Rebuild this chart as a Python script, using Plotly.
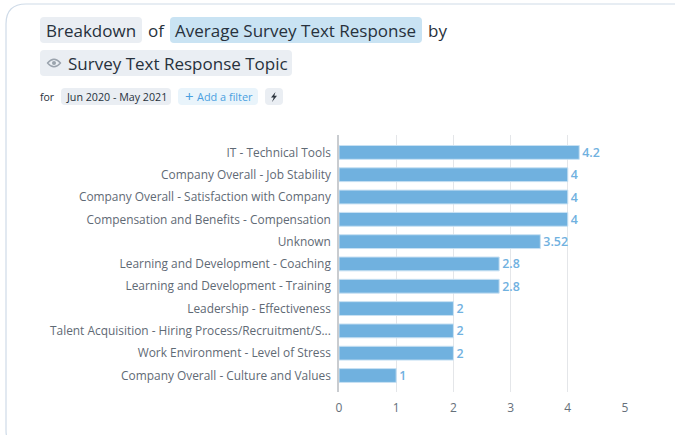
import plotly.graph_objects as go

topics = [
    "IT - Technical Tools",
    "Company Overall - Job Stability",
    "Company Overall - Satisfaction with Company",
    "Compensation and Benefits - Compensation",
    "Unknown",
    "Learning and Development - Coaching",
    "Learning and Development - Training",
    "Leadership - Effectiveness",
    "Talent Acquisition - Hiring Process/Recruitment/S...",
    "Work Environment - Level of Stress",
    "Company Overall - Culture and Values",
]
avg_response = [4.2, 4, 4, 4, 3.52, 2.8, 2.8, 2, 2, 2, 1]
x_ticks = [0, 1, 2, 3, 4, 5]

W, H = 675, 435
ML, MR, MT, MB = 339, 50, 135, 43
FONT = "Open Sans"


def px(x):
    return (x - ML) / (W - ML - MR)


def py(y):
    return 1 - (y - MT) / (H - MT - MB)


def rounded_rect(x0, y0, x1, y1, r):
    """SVG path for a rounded rectangle, in paper coordinates."""
    pts = [
        ("M", x0 + r, y0), ("L", x1 - r, y0), ("Q", x1, y0, x1, y0 + r),
        ("L", x1, y1 - r), ("Q", x1, y1, x1 - r, y1), ("L", x0 + r, y1),
        ("Q", x0, y1, x0, y1 - r), ("L", x0, y0 + r), ("Q", x0, y0, x0 + r, y0),
    ]
    parts = []
    for p in pts:
        if p[0] == "Q":
            parts.append(f"Q{px(p[1])},{py(p[2])} {px(p[3])},{py(p[4])}")
        else:
            parts.append(f"{p[0]}{px(p[1])},{py(p[2])}")
    return " ".join(parts) + " Z"


def pill(x0, y0, x1, y1, color, r=4):
    return dict(type="path", xref="paper", yref="paper", path=rounded_rect(x0, y0, x1, y1, r),
                fillcolor=color, line=dict(width=0), layer="below")


def poly(points, color):
    d = "M" + " L".join(f"{px(x)},{py(y)}" for x, y in points) + " Z"
    return dict(type="path", xref="paper", yref="paper", path=d, fillcolor=color,
                line=dict(width=0), layer="above")


def label(x, y, text, size, color, weight=400):
    # annotations carry about 2px of inner padding, taken back here
    return dict(xref="paper", yref="paper", x=px(x - 2), y=py(y), text=text, showarrow=False,
                xanchor="left", yanchor="middle", align="left",
                font=dict(family=FONT, size=size, color=color, weight=weight))


GREY_PILL = "#eaeef3"
BLUE_PILL = "#c9e3f3"
INK = "#27313c"

shapes = [
    # card outline, running off the right and bottom edges
    dict(type="path", xref="paper", yref="paper", layer="below",
         path=rounded_rect(6, 4, 700, 450, 20), fillcolor="white",
         line=dict(color="#cfdbe8", width=1.2)),
    pill(40, 17, 142, 43, GREY_PILL),
    pill(170, 17, 422, 43, BLUE_PILL),
    pill(40, 50, 292, 76, GREY_PILL),
    pill(61, 88, 171, 105, GREY_PILL),
    pill(178, 88, 258, 105, "#e9f4fb"),
    pill(265, 88, 283, 105, GREY_PILL),
    # eye icon on the topic pill
    dict(type="path", xref="paper", yref="paper", layer="above",
         path=(f"M{px(47.5)},{py(63)} Q{px(54)},{py(55.5)} {px(60.5)},{py(63)} "
               f"Q{px(54)},{py(70.5)} {px(47.5)},{py(63)} Z"),
         fillcolor="rgba(0,0,0,0)", line=dict(color="#9aa3ad", width=1.3)),
    dict(type="circle", xref="paper", yref="paper", layer="above",
         x0=px(52), x1=px(56), y0=py(65), y1=py(61),
         fillcolor="#9aa3ad", line=dict(width=0)),
    # lightning bolt on the last pill
    poly([(275.5, 92), (271, 97.5), (273.7, 97.5), (272, 102), (277, 95.8), (274.3, 95.8)], "#2f3740"),
]

annotations = [
    label(45.5, 30, "Breakdown", 17, INK, 500),
    label(148, 30, "of", 17, INK, 500),
    label(175, 30, "Average Survey Text Response", 17, INK, 500),
    label(428, 30, "by", 17, INK, 500),
    label(68, 63, "Survey Text Response Topic", 17, INK, 500),
    label(40, 96.5, "for", 10.5, INK),
    label(66, 97, "Jun 2020 - May 2021", 10.7, INK),
    label(185, 96, "+", 15, "#4a9fe0"),
    label(197, 96.5, "Add a filter", 10.9, "#4a9fe0", 500),
]

fig = go.Figure(
    go.Bar(
        x=avg_response,
        y=topics,
        orientation="h",
        marker=dict(color="#70b1df", line=dict(color="#c8e1f3", width=1)),
        text=[str(v) for v in avg_response],
        textposition="outside",
        constraintext="none",
        cliponaxis=False,
        textfont=dict(family=FONT, size=12.4, color="#70b1df", weight=600),
        hoverinfo="skip",
    )
)

fig.update_layout(
    width=W,
    height=H,
    autosize=False,
    margin=dict(l=ML, r=MR, t=MT, b=MB, pad=0),
    paper_bgcolor="white",
    plot_bgcolor="rgba(0,0,0,0)",
    showlegend=False,
    bargap=0.38,
    shapes=shapes,
    annotations=annotations,
    font=dict(family=FONT),
    xaxis=dict(
        range=[0, 5],
        tickvals=x_ticks,
        showgrid=True,
        gridcolor="#e4e6e9",
        gridwidth=1,
        zeroline=False,
        showline=False,
        ticks="",
        tickfont=dict(family=FONT, size=12, color="#66707a"),
        ticklabelstandoff=7,
    ),
    yaxis=dict(
        range=[10.74, -0.78],
        type="category",
        categoryorder="array",
        categoryarray=topics,
        showgrid=False,
        showline=True,
        linecolor="#c9ccd0",
        linewidth=1.5,
        ticks="outside",
        ticklen=4,
        tickcolor="rgba(0,0,0,0)",
        tickfont=dict(family=FONT, size=11.9, color="#5f6a75"),
    ),
)

fig.write_html("out.html", config=dict(displayModeBar=False))
